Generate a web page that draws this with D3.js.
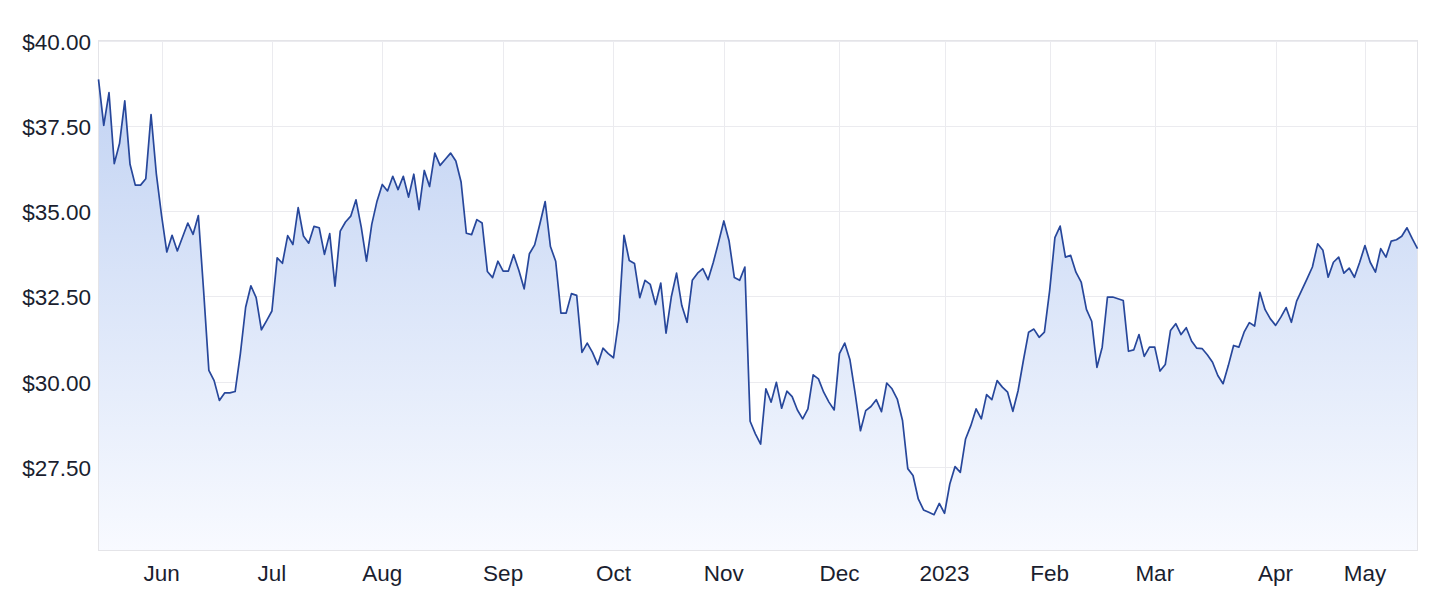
<!DOCTYPE html>
<html>
<head>
<meta charset="utf-8">
<script src="https://cdn.jsdelivr.net/npm/d3@7"></script>
<style>
  html, body { margin: 0; padding: 0; background: #ffffff; }
  svg { display: block; }
  .tick-label { font-family: "Helvetica Neue", Helvetica, "Liberation Sans", Arial, sans-serif; font-size: 22.5px; fill: #1a1e2f; }
</style>
</head>
<body>
<svg id="chart" width="1442" height="602"></svg>
<script>
// Daily closing prices (trading days, mid-May 2022 to mid-May 2023)
const prices = [
  38.86, 37.51, 38.47, 36.39, 36.98, 38.23, 36.37, 35.76, 35.76, 35.95,
  37.83, 36.10, 34.87, 33.80, 34.29, 33.83, 34.24, 34.65, 34.32, 34.87,
  32.67, 30.33, 30.03, 29.45, 29.67, 29.67, 29.71, 30.82, 32.18, 32.81,
  32.46, 31.52, 31.79, 32.07, 33.63, 33.47, 34.28, 34.02, 35.10, 34.27,
  34.06, 34.55, 34.51, 33.73, 34.34, 32.80, 34.41, 34.68, 34.85, 35.33,
  34.53, 33.53, 34.61, 35.29, 35.78, 35.59, 36.02, 35.63, 36.02, 35.41,
  36.08, 35.04, 36.19, 35.72, 36.70, 36.34, 36.52, 36.70, 36.47, 35.85,
  34.35, 34.31, 34.75, 34.65, 33.23, 33.05, 33.53, 33.24, 33.24, 33.72,
  33.26, 32.72, 33.75, 34.01, 34.63, 35.28, 33.96, 33.53, 32.01, 32.01,
  32.58, 32.53, 30.86, 31.13, 30.86, 30.50, 30.98, 30.82, 30.70, 31.79,
  34.29, 33.55, 33.46, 32.46, 32.97, 32.85, 32.26, 32.89, 31.42, 32.48,
  33.18, 32.23, 31.74, 32.97, 33.18, 33.31, 32.99, 33.50, 34.09, 34.71,
  34.12, 33.05, 32.97, 33.36, 28.84, 28.47, 28.17, 29.79, 29.40, 29.98,
  29.22, 29.72, 29.56, 29.17, 28.91, 29.20, 30.20, 30.08, 29.69, 29.40,
  29.17, 30.82, 31.13, 30.64, 29.64, 28.56, 29.15, 29.27, 29.47, 29.12,
  29.96, 29.79, 29.49, 28.86, 27.45, 27.25, 26.56, 26.24, 26.17, 26.10,
  26.43, 26.14, 27.00, 27.51, 27.34, 28.32, 28.71, 29.20, 28.91, 29.62,
  29.47, 30.03, 29.84, 29.69, 29.13, 29.74, 30.62, 31.45, 31.54, 31.30,
  31.45, 32.67, 34.22, 34.56, 33.65, 33.70, 33.21, 32.92, 32.12, 31.77,
  30.42, 31.01, 32.48, 32.48, 32.43, 32.38, 30.89, 30.93, 31.38, 30.74,
  31.01, 31.01, 30.31, 30.50, 31.50, 31.70, 31.38, 31.58, 31.19, 30.98,
  30.97, 30.79, 30.57, 30.18, 29.94, 30.47, 31.06, 31.01, 31.45, 31.73,
  31.63, 32.62, 32.11, 31.84, 31.65, 31.89, 32.17, 31.74, 32.36, 32.69,
  33.02, 33.36, 34.04, 33.85, 33.06, 33.50, 33.65, 33.18, 33.33, 33.06,
  33.50, 33.99, 33.50, 33.21, 33.90, 33.65, 34.12, 34.16, 34.26, 34.51,
  34.19, 33.90
];

// Month tick labels and the trading-day index where each month starts
const tickLabels = ["Jun", "Jul", "Aug", "Sep", "Oct", "Nov", "Dec", "2023", "Feb", "Mar", "Apr", "May"];
const tickIndex  = [12, 33, 54, 77, 98, 119, 141, 161, 181, 201, 224, 241];

// Y axis tick values
const yTicks = [27.5, 30, 32.5, 35, 37.5, 40];

(function () {
  const svg = d3.select("#chart");
  const pLeft = 98.5, pRight = 1417.5, pTop = 40.5, pBottom = 550.5;

  const x = d3.scaleLinear().domain([0, prices.length - 1]).range([pLeft, pRight]);
  const y = d3.scaleLinear().domain([25.05, 40]).range([pBottom, pTop]);

  const defs = svg.append("defs");
  const grad = defs.append("linearGradient")
    .attr("id", "areaGrad")
    .attr("gradientUnits", "userSpaceOnUse")
    .attr("x1", 0).attr("x2", 0)
    .attr("y1", y(d3.max(prices))).attr("y2", pBottom);
  grad.append("stop").attr("offset", "0%").attr("stop-color", "#c2d3f3");
  grad.append("stop").attr("offset", "100%").attr("stop-color", "#f8faff");

  // Grid
  const grid = svg.append("g").attr("stroke", "#ebebef").attr("stroke-width", 1).attr("fill", "none");
  grid.selectAll("line.h").data(yTicks).join("line")
    .attr("class", "h")
    .attr("x1", pLeft).attr("x2", pRight)
    .attr("y1", d => Math.round(y(d)) + 0.5).attr("y2", d => Math.round(y(d)) + 0.5);
  grid.selectAll("line.v").data(tickIndex).join("line")
    .attr("class", "v")
    .attr("y1", pTop).attr("y2", pBottom)
    .attr("x1", d => Math.round(x(d)) + 0.5).attr("x2", d => Math.round(x(d)) + 0.5);

  // Area
  const area = d3.area()
    .x((d, i) => x(i))
    .y0(pBottom)
    .y1(d => y(d));
  svg.append("path").datum(prices)
    .attr("d", area)
    .attr("fill", "url(#areaGrad)");

  // Border
  svg.append("rect")
    .attr("x", pLeft).attr("y", pTop)
    .attr("width", pRight - pLeft).attr("height", pBottom - pTop)
    .attr("fill", "none").attr("stroke", "#e4e4e8").attr("stroke-width", 1);

  // Line
  const line = d3.line().x((d, i) => x(i)).y(d => y(d));
  svg.append("path").datum(prices)
    .attr("d", line)
    .attr("fill", "none")
    .attr("stroke", "#27479b")
    .attr("stroke-width", 1.7)
    .attr("stroke-linejoin", "round");

  // Y labels
  const fmt = d => "$" + d3.format(".2f")(d);
  svg.append("g").selectAll("text").data(yTicks).join("text")
    .attr("class", "tick-label")
    .attr("x", 91)
    .attr("y", d => y(d))
    .attr("dy", "0.4em")
    .attr("text-anchor", "end")
    .text(fmt);

  // X labels
  svg.append("g").selectAll("text").data(tickIndex).join("text")
    .attr("class", "tick-label")
    .attr("x", d => x(d))
    .attr("y", 581)
    .attr("text-anchor", "middle")
    .text((d, i) => tickLabels[i]);
})();
</script>
</body>
</html>
